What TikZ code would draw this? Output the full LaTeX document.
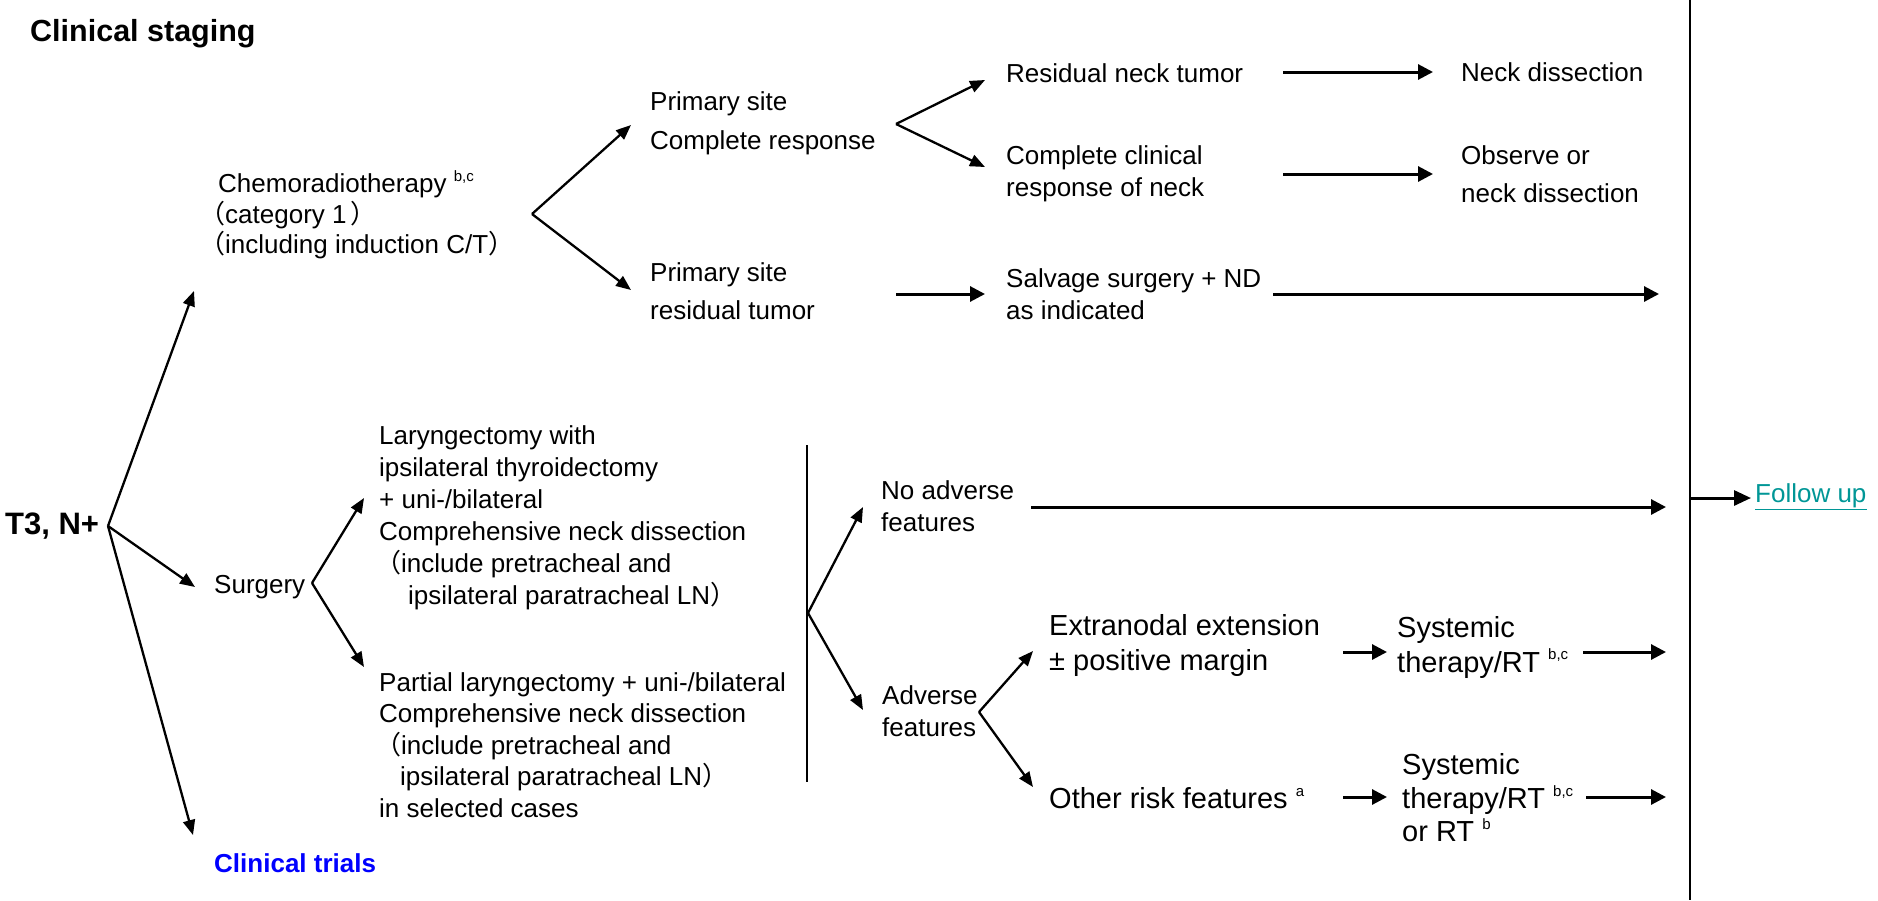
\documentclass[tikz,border=0pt]{standalone}
\usepackage{fontspec}
\setmainfont{Liberation Sans}
\newfontfamily\cjk{Noto Sans CJK SC}
\usetikzlibrary{arrows.meta}
% small raised footnote letters
\newcommand\upn[1]{\raisebox{0.42em}{\fontsize{15}{15}\selectfont #1}}
% full-width parentheses
\newcommand\oparen{{\cjk （}}
\newcommand\cparen{{\cjk ）}}
\definecolor{trialblue}{RGB}{0,0,255}
\definecolor{futeal}{RGB}{0,150,150}
\begin{document}
\begin{tikzpicture}[x=1pt,y=-1pt,
  txt/.style={anchor=west,inner sep=0pt,align=left,font=\fontsize{26}{32}\selectfont},
  bigtxt/.style={txt,font=\fontsize{29}{35}\selectfont},
  boldtxt/.style={anchor=west,inner sep=0pt,font=\fontsize{30.5}{36}\selectfont\bfseries},
  harr/.style={-{Triangle[length=15pt,width=15pt]},line width=3pt},
  darr/.style={-{Triangle[length=15pt,width=12pt]},line width=2.3pt},
  rule/.style={line width=2.2pt}]
\useasboundingbox (0,0) rectangle (1878,900);

% ---------- left column ----------
\node[boldtxt] (title) at (30,34) {Clinical staging};
\node[boldtxt,font=\fontsize{31}{36}\selectfont\bfseries] (t3) at (5,526) {T3, N+};
\coordinate (o) at (108,526);

\node[txt,font=\fontsize{26}{30.5}\selectfont] (chemo) at (199,215)
  {\hspace*{19pt}Chemoradiotherapy \upn{b,c}\\
   \oparen category 1\,\cparen\\
   \oparen including induction C/T\cparen};
\node[txt] (surg) at (214,587) {Surgery};
\node[boldtxt,font=\fontsize{26}{30}\selectfont\bfseries,text=trialblue] (trials) at (214,863) {Clinical trials};

\coordinate (tchemo) at (194,291);
\coordinate (tsurg) at (195,587);
\coordinate (ttrials) at (193,835);
\draw[darr] (o) -- (tchemo);
\draw[darr] (o) -- (tsurg);
\draw[darr] (o) -- (ttrials);

% ---------- chemoradiotherapy branch ----------
\coordinate (vchemo) at (532,214);
\node[txt,font=\fontsize{26}{39}\selectfont] (pcr) at (650,123) {Primary site\\Complete response};
\node[txt,font=\fontsize{26}{38}\selectfont] (prt) at (650,291) {Primary site\\residual tumor};
\coordinate (tpcr) at (631,125);
\coordinate (tprt) at (631,290);
\draw[darr] (vchemo) -- (tpcr);
\draw[darr] (vchemo) -- (tprt);

\coordinate (vcr) at (896,124);
\node[txt] (rnt) at (1006,73) {Residual neck tumor};
\node[txt] (ccr) at (1006,174) {Complete clinical\\response of neck};
\coordinate (trnt) at (985,80);
\coordinate (tccr) at (985,167);
\draw[darr] (vcr) -- (trnt);
\draw[darr] (vcr) -- (tccr);

\node[txt] (nd) at (1461,72) {Neck dissection};
\node[txt,font=\fontsize{26}{38}\selectfont] (obs) at (1461,174) {Observe or\\neck dissection};
\draw[harr] (1283,72) coordinate (a1) -- (1433,72) coordinate (b1);
\draw[harr] (1283,174) coordinate (a2) -- (1433,174) coordinate (b2);

\node[txt] (salv) at (1006,294) {Salvage surgery + ND\\as indicated};
\coordinate (sprt) at (896,294);
\coordinate (tsalv) at (985,294);
\draw[harr] (sprt) -- (tsalv);
\coordinate (ssalv) at (1273,294);
\coordinate (esalv) at (1659,294);
\draw[harr] (ssalv) -- (esalv);

% ---------- surgery branch ----------
\coordinate (vsurg) at (312,583);
\coordinate (tlar) at (364,498);
\coordinate (tpar) at (364,667);
\draw[darr] (vsurg) -- (tlar);
\draw[darr] (vsurg) -- (tpar);

\node[txt] (lar) at (379,518)
  {Laryngectomy with\\
   ipsilateral thyroidectomy\\
   + uni-/bilateral\\
   Comprehensive neck dissection\\
   \hspace*{-4pt}\oparen include pretracheal and\\
   \hspace*{29pt}ipsilateral paratracheal LN\cparen};
\node[txt,font=\fontsize{26}{31.5}\selectfont] (par) at (379,745)
  {Partial laryngectomy + uni-/bilateral\\
   Comprehensive neck dissection\\
   \hspace*{-4pt}\oparen include pretracheal and\\
   \hspace*{21pt}ipsilateral paratracheal LN\cparen\\
   in selected cases};

\coordinate (brt) at (807,445);
\coordinate (brb) at (807,782);
\draw[line width=1.8pt] (brt) -- (brb);
\coordinate (vbr) at (808,613);
\coordinate (tnoadv) at (863,507);
\coordinate (tadv) at (863,710);
\draw[darr] (vbr) -- (tnoadv);
\draw[darr] (vbr) -- (tadv);

\node[txt] (noadv) at (881,506) {No adverse\\features};
\node[txt] (adv) at (882,711) {Adverse\\features};
\coordinate (snoadv) at (1031,507);
\coordinate (enoadv) at (1666,507);
\draw[harr] (snoadv) -- (enoadv);

\coordinate (vadv) at (979,712);
\coordinate (tene) at (1033,651);
\coordinate (tother) at (1033,787);
\draw[darr] (vadv) -- (tene);
\draw[darr] (vadv) -- (tother);

\node[bigtxt] (ene) at (1049,645) {Extranodal extension\\± positive margin};
\node[bigtxt] (sys1) at (1397,647) {Systemic\\therapy/RT \upn{b,c}};
\node[bigtxt] (other) at (1049,798) {Other risk features \upn{a}};
\node[bigtxt,font=\fontsize{29}{33.5}\selectfont] (sys2) at (1402,798) {Systemic\\therapy/RT \upn{b,c}\\or RT \upn{b}};

\draw[harr] (1343,652) coordinate (a3) -- (1387,652) coordinate (b3);
\draw[harr] (1583,652) coordinate (a4) -- (1666,652) coordinate (b4);
\draw[harr] (1343,797) coordinate (a5) -- (1387,797) coordinate (b5);
\draw[harr] (1586,797) coordinate (a6) -- (1666,797) coordinate (b6);

% ---------- follow up ----------
\coordinate (vtop) at (1690,0);
\coordinate (vbot) at (1690,900);
\draw[rule] (vtop) -- (vbot);
\node[txt,text=futeal] (fu) at (1755,496) {Follow up};
\draw[futeal,line width=1.3pt] ([yshift=-6.5pt]fu.base west) -- ([yshift=-6.5pt]fu.base east);
\draw[harr,-{Triangle[length=17pt,width=15pt]}] (1690,498) coordinate (sfu) -- ([xshift=-4pt]fu.west |- sfu);
\end{tikzpicture}
\end{document}
